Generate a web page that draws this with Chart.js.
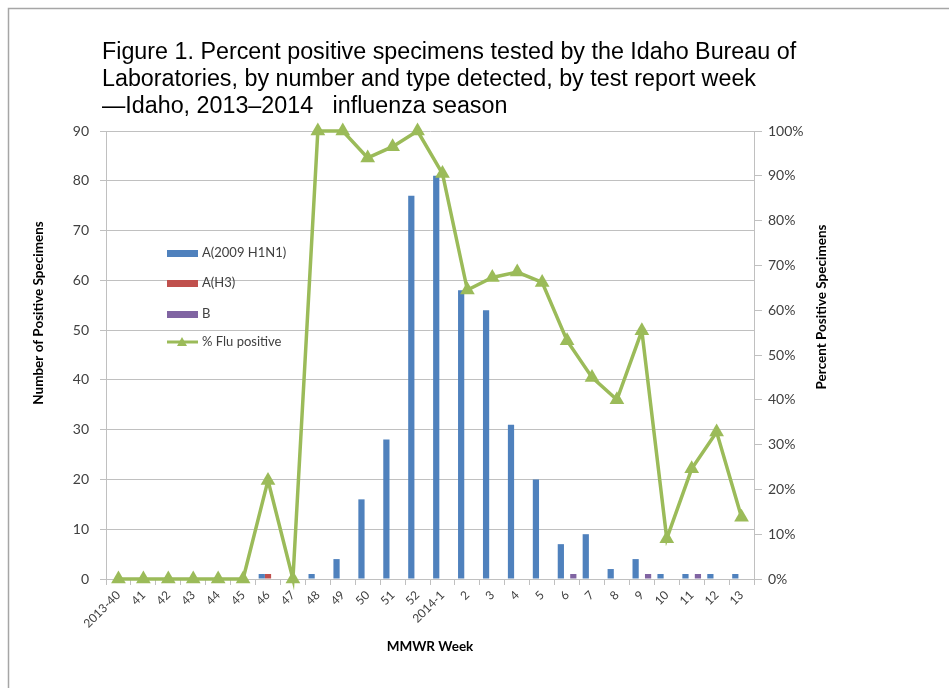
<!DOCTYPE html>
<html lang="en">
<head>
    <meta charset="UTF-8">
    <title>Idaho influenza 2013-2014</title>
    <script src="https://cdn.jsdelivr.net/npm/chart.js"></script>
    <style>
        body { margin: 0; background: #fff; }
    </style>
</head>
<body>
    <canvas id="fluChart" width="949" height="688"></canvas>
    <script>
        // data
        const weeks = ['2013-40', '41', '42', '43', '44', '45', '46', '47', '48', '49', '50', '51', '52',
            '2014-1', '2', '3', '4', '5', '6', '7', '8', '9', '10', '11', '12', '13'];
        const h1n1 = [0, 0, 0, 0, 0, 0, 1, 0, 1, 4, 16, 28, 77, 81, 58, 54, 31, 20, 7, 9, 2, 4, 1, 1, 1, 1];
        const h3 = [0, 0, 0, 0, 0, 0, 1, 0, 0, 0, 0, 0, 0, 0, 0, 0, 0, 0, 0, 0, 0, 0, 0, 0, 0, 0];
        const fluB = [0, 0, 0, 0, 0, 0, 0, 0, 0, 0, 0, 0, 0, 0, 0, 0, 0, 0, 1, 0, 0, 1, 0, 1, 0, 0];
        const pctPositive = [0, 0, 0, 0, 0, 0, 22, 0, 100, 100, 94, 96.5, 100, 90.5, 64.5, 67.3, 68.5, 66.2,
            53.2, 45, 40, 55.4, 9, 24.6, 32.8, 13.8];

        const titleLines = [
            'Figure 1. Percent positive specimens tested by the Idaho Bureau of',
            'Laboratories, by number and type detected, by test report week',
            '\u2014Idaho, 2013\u20132014   influenza season'
        ];

        const gridGray = '#c0c0c0';
        const tickColor = '#404040';
        const font = 'Lato';

        // title, axis titles, legend and frame drawn by hand
        const decorations = {
            id: 'decorations',
            afterDraw(chart) {
                const ctx = chart.ctx;
                const area = chart.chartArea;
                ctx.save();

                ctx.strokeStyle = '#a6a6a6';
                ctx.lineWidth = 1.5;
                ctx.strokeRect(8.5, 8.5, 960, 700);

                ctx.fillStyle = '#000';
                ctx.font = '23.3px "Liberation Sans", Arial, sans-serif';
                ctx.textBaseline = 'alphabetic';
                ctx.textAlign = 'left';
                titleLines.forEach((t, i) => ctx.fillText(t, 102, 59 + i * 27));

                ctx.font = 'bold 13.5px ' + font;
                ctx.textAlign = 'center';
                ctx.textBaseline = 'middle';
                ctx.fillText('MMWR Week', (area.left + area.right) / 2, 647);

                ctx.save();
                ctx.translate(39, 313);
                ctx.rotate(-Math.PI / 2);
                ctx.fillText('Number of Positive Specimens', 0, 0);
                ctx.restore();

                ctx.save();
                ctx.translate(822, 307);
                ctx.rotate(-Math.PI / 2);
                ctx.fillText('Percent Positive Specimens', 0, 0);
                ctx.restore();

                // legend
                const items = chart.data.datasets.slice(1).concat(chart.data.datasets[0]);
                const rows = [253, 283, 314, 342];
                ctx.font = '13px ' + font;
                ctx.textAlign = 'left';
                items.forEach((ds, i) => {
                    const y = rows[i];
                    if (ds.type === 'line') {
                        ctx.strokeStyle = ds.borderColor;
                        ctx.lineWidth = 3;
                        ctx.beginPath();
                        ctx.moveTo(167, y);
                        ctx.lineTo(198, y);
                        ctx.stroke();
                        ctx.fillStyle = ds.borderColor;
                        ctx.beginPath();
                        ctx.moveTo(182, y - 5);
                        ctx.lineTo(187, y + 4);
                        ctx.lineTo(177, y + 4);
                        ctx.closePath();
                        ctx.fill();
                    } else {
                        ctx.fillStyle = ds.backgroundColor;
                        ctx.fillRect(167, y - 3, 31, 7);
                    }
                    ctx.fillStyle = tickColor;
                    ctx.fillText(ds.label, 202, y);
                });
                ctx.restore();
            }
        };

        const config = {
            type: 'bar',
            data: {
                labels: weeks,
                datasets: [{
                    type: 'line',
                    label: '% Flu positive',
                    data: pctPositive,
                    yAxisID: 'y1',
                    borderColor: '#9bbb59',
                    backgroundColor: '#9bbb59',
                    borderWidth: 3.5,
                    pointStyle: 'triangle',
                    pointRadius: 8.5,
                    pointBorderWidth: 0,
                    tension: 0,
                    clip: false,
                    order: 0
                }, {
                    label: 'A(2009 H1N1)',
                    data: h1n1,
                    backgroundColor: '#4f81bd',
                    order: 1
                }, {
                    label: 'A(H3)',
                    data: h3,
                    backgroundColor: '#c0504d',
                    order: 1
                }, {
                    label: 'B',
                    data: fluB,
                    backgroundColor: '#8064a2',
                    order: 1
                }]
            },
            options: {
                responsive: false,
                animation: false,
                layout: { padding: { top: 131, left: 0, right: 0, bottom: 0 } },
                datasets: {
                    bar: { categoryPercentage: 0.75, barPercentage: 1 }
                },
                scales: {
                    x: {
                        offset: true,
                        grid: { offset: true, drawOnChartArea: false, tickLength: 6, color: gridGray },
                        border: { color: gridGray },
                        ticks: {
                            autoSkip: false,
                            maxRotation: 45,
                            minRotation: 45,
                            color: tickColor,
                            font: { family: font, size: 12 }
                        },
                        afterFit(scale) { scale.height = 109; }
                    },
                    y: {
                        position: 'left',
                        min: 0,
                        max: 90,
                        ticks: { stepSize: 10, padding: 11, color: tickColor, font: { family: font, size: 14 } },
                        grid: { color: gridGray, tickLength: 6 },
                        border: { color: gridGray },
                        afterFit(scale) { scale.width = 106; }
                    },
                    y1: {
                        position: 'right',
                        min: 0,
                        max: 100,
                        ticks: {
                            stepSize: 10,
                            padding: 6,
                            color: tickColor,
                            font: { family: font, size: 14 },
                            callback: v => v + '%'
                        },
                        grid: { drawOnChartArea: false, color: gridGray, tickLength: 8 },
                        border: { color: gridGray },
                        afterFit(scale) { scale.width = 195; }
                    }
                },
                plugins: {
                    legend: { display: false },
                    title: { display: false },
                    tooltip: { enabled: false }
                }
            },
            plugins: [decorations]
        };

        const ctx = document.querySelector('#fluChart').getContext('2d');
        const fluChart = new Chart(ctx, config);
    </script>
</body>
</html>
